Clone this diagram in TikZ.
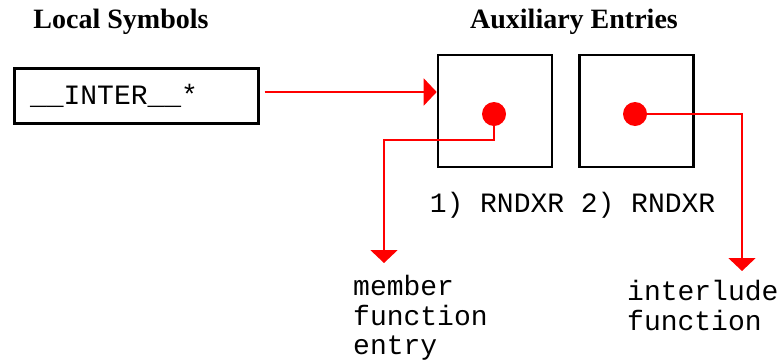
\documentclass[tikz,border=0pt]{standalone}
\usepackage{fontspec}
\setmainfont{Liberation Serif}
\setmonofont{Liberation Mono}
\usetikzlibrary{arrows.meta}
\definecolor{ptr}{RGB}{255,0,0}
\begin{document}
\begin{tikzpicture}[x=1pt,y=-1pt,
  head/.style={font=\bfseries\fontsize{28}{30}\selectfont, inner sep=0pt},
  mono/.style={font=\ttfamily\fontsize{28}{29.5}\selectfont, inner sep=0pt},
  entrybox/.style={draw, line width=2.6pt, minimum width=114pt, minimum height=112pt, inner sep=0pt},
  dotmark/.style={circle, fill=ptr, minimum size=24pt, inner sep=0pt},
  ptrline/.style={draw=ptr, line width=2.2pt},
  ptrarrow/.style={ptrline, -{Triangle[length=13pt,width=27pt]}}]
\useasboundingbox (0,0) rectangle (783,362);
\fill[white] (0,0) rectangle (783,362);
\node[head] (lochead) at (121,22) {Local Symbols};
\node[head] (auxhead) at (574,22) {Auxiliary Entries};
\node[draw, line width=3pt, minimum width=244pt, minimum height=55pt, text width=212pt, inner xsep=16pt, inner ysep=0pt, align=left, font=\ttfamily\fontsize{28}{29.5}\selectfont] (inter) at (136,95.5) {\_\_INTER\_\_*};
\node[entrybox] (box1) at (495,111) {};
\node[entrybox] (box2) at (636.5,111) {};
\node[dotmark] (dot1) at (494,114) {};
\node[dotmark] (dot2) at (635,114) {};
\node[mono] (lab1) at (497,205) {1) RNDXR};
\node[mono] (lab2) at (648,205) {2) RNDXR};
\node[mono, align=left, anchor=base west] (member) at (353,354.5) {member\\function\\entry};
\node[mono, align=left, anchor=base west] (interl) at (627,330) {interlude\\function};
\coordinate (tip1) at (384,263);
\coordinate (tip2) at (742,271);
\draw[ptrarrow, shorten <=5pt] (inter.east |- 0,92) -- (box1.west |- 0,92);
\draw[ptrarrow] (dot1.center) -- (dot1.center |- 0,140) -| (tip1);
\draw[ptrarrow] (dot2.center) -| (tip2);
\end{tikzpicture}
\end{document}
